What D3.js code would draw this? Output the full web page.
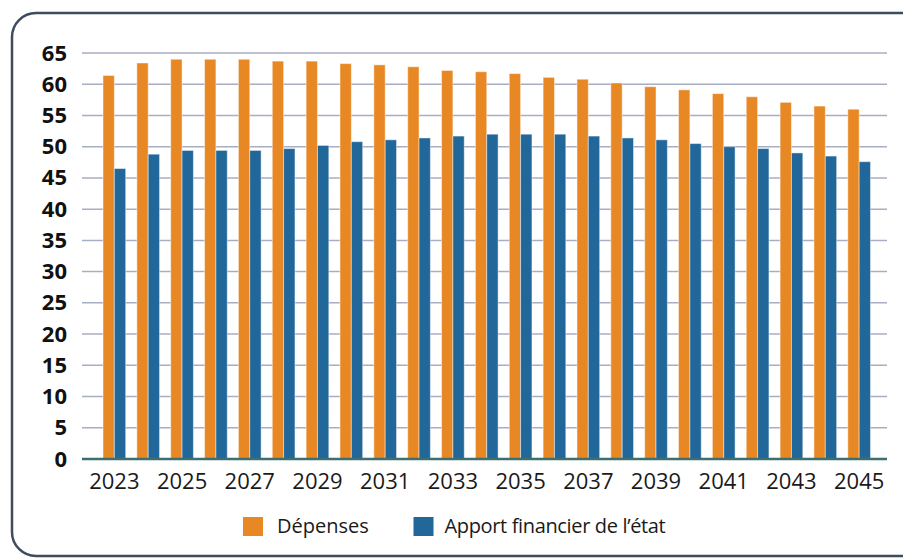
<!DOCTYPE html>
<html>
<head>
<meta charset="utf-8">
<script src="https://cdn.jsdelivr.net/npm/d3@7"></script>
<style>
  body { margin: 0; background: #fff; }
  svg { display: block; font-family: "Open Sans", sans-serif; }
</style>
</head>
<body>
<script>
// data
var years = ["2023","2024","2025","2026","2027","2028","2029","2030","2031","2032","2033","2034",
             "2035","2036","2037","2038","2039","2040","2041","2042","2043","2044","2045"];
var depenses = [61.4,63.4,64.0,64.0,64.0,63.7,63.7,63.3,63.1,62.8,62.2,62.0,
                61.7,61.1,60.8,60.2,59.6,59.1,58.5,58.0,57.1,56.5,56.0];
var apport = [46.5,48.8,49.4,49.4,49.4,49.7,50.2,50.8,51.1,51.4,51.7,52.0,
              52.0,52.0,51.7,51.4,51.1,50.5,50.0,49.7,49.0,48.5,47.6];
var yTicks = [0,5,10,15,20,25,30,35,40,45,50,55,60,65];
var xTickLabels = ["2023","2025","2027","2029","2031","2033","2035","2037","2039","2041","2043","2045"];
var seriesNames = ["Dépenses", "Apport financier de l’état"];
var colors = ["#E88824", "#21679A"];

var W = 903, H = 558;
var plotLeft = 82, plotRight = 887;

var svg = d3.select("body").append("svg")
  .attr("width", W)
  .attr("height", H);

// rounded frame
svg.append("rect")
  .attr("x", 12).attr("y", 13)
  .attr("width", 920).attr("height", 543)
  .attr("rx", 24).attr("ry", 24)
  .attr("fill", "#fff")
  .attr("stroke", "#3F4B5E")
  .attr("stroke-width", 2.5);

var y = d3.scaleLinear().domain([0, 65]).range([459, 53]);

var x = d3.scaleBand()
  .domain(years)
  .range([103, 870.5])
  .paddingInner(0.33)
  .paddingOuter(0);

var x1 = d3.scaleBand()
  .domain([0, 1])
  .range([0, x.bandwidth()]);

// gridlines
svg.append("g")
  .selectAll("line")
  .data(yTicks.filter(function(d) { return d > 0; }))
  .enter().append("line")
  .attr("x1", plotLeft).attr("x2", plotRight)
  .attr("y1", function(d) { return y(d); })
  .attr("y2", function(d) { return y(d); })
  .attr("stroke", "#A8AEC1")
  .attr("stroke-width", 1.5);

// y axis labels
var yAxis = svg.append("g")
  .attr("transform", "translate(" + plotLeft + ",0)")
  .call(d3.axisLeft(y).tickValues(yTicks).tickSize(0).tickPadding(15));
yAxis.select(".domain").remove();
yAxis.selectAll("text")
  .style("font-family", "'Open Sans', sans-serif")
  .style("font-size", "22px")
  .style("font-weight", "bold")
  .attr("fill", "#111");

// bars
var series = [depenses, apport];
series.forEach(function(vals, s) {
  svg.append("g")
    .selectAll("rect")
    .data(vals)
    .enter().append("rect")
    .attr("x", function(d, i) { return x(years[i]) + x1(s); })
    .attr("width", x1.bandwidth())
    .attr("y", function(d) { return y(d); })
    .attr("height", function(d) { return y(0) - y(d); })
    .attr("fill", colors[s])
    .attr("stroke", "rgba(255,255,255,0.45)")
    .attr("stroke-width", 1);
});

// baseline
svg.append("line")
  .attr("x1", plotLeft).attr("x2", plotRight)
  .attr("y1", y(0)).attr("y2", y(0))
  .attr("stroke", "#3D6F70")
  .attr("stroke-width", 2.5);

// x axis labels
var xAxis = svg.append("g")
  .attr("transform", "translate(0," + y(0) + ")")
  .call(d3.axisBottom(x).tickValues(xTickLabels).tickSize(0).tickPadding(14));
xAxis.select(".domain").remove();
xAxis.selectAll("text")
  .style("font-family", "'Open Sans', sans-serif")
  .style("font-size", "22px")
  .attr("fill", "#1a1a1a");

// legend
var legendItems = [{x: 243, label: seriesNames[0]}, {x: 413.5, label: seriesNames[1]}];
var lg = svg.append("g").selectAll("g")
  .data(legendItems)
  .enter().append("g")
  .attr("transform", function(d) { return "translate(" + d.x + ",517)"; });
lg.append("rect")
  .attr("width", 20).attr("height", 19)
  .attr("fill", function(d, i) { return colors[i]; });
lg.append("text")
  .attr("x", function(d, i) { return i === 0 ? 34 : 31; })
  .attr("y", 16)
  .style("font-size", "20px")
  .style("letter-spacing", function(d, i) { return i === 0 ? "0px" : "-0.35px"; })
  .attr("fill", "#1a1a1a")
  .text(function(d) { return d.label; });
</script>
</body>
</html>
